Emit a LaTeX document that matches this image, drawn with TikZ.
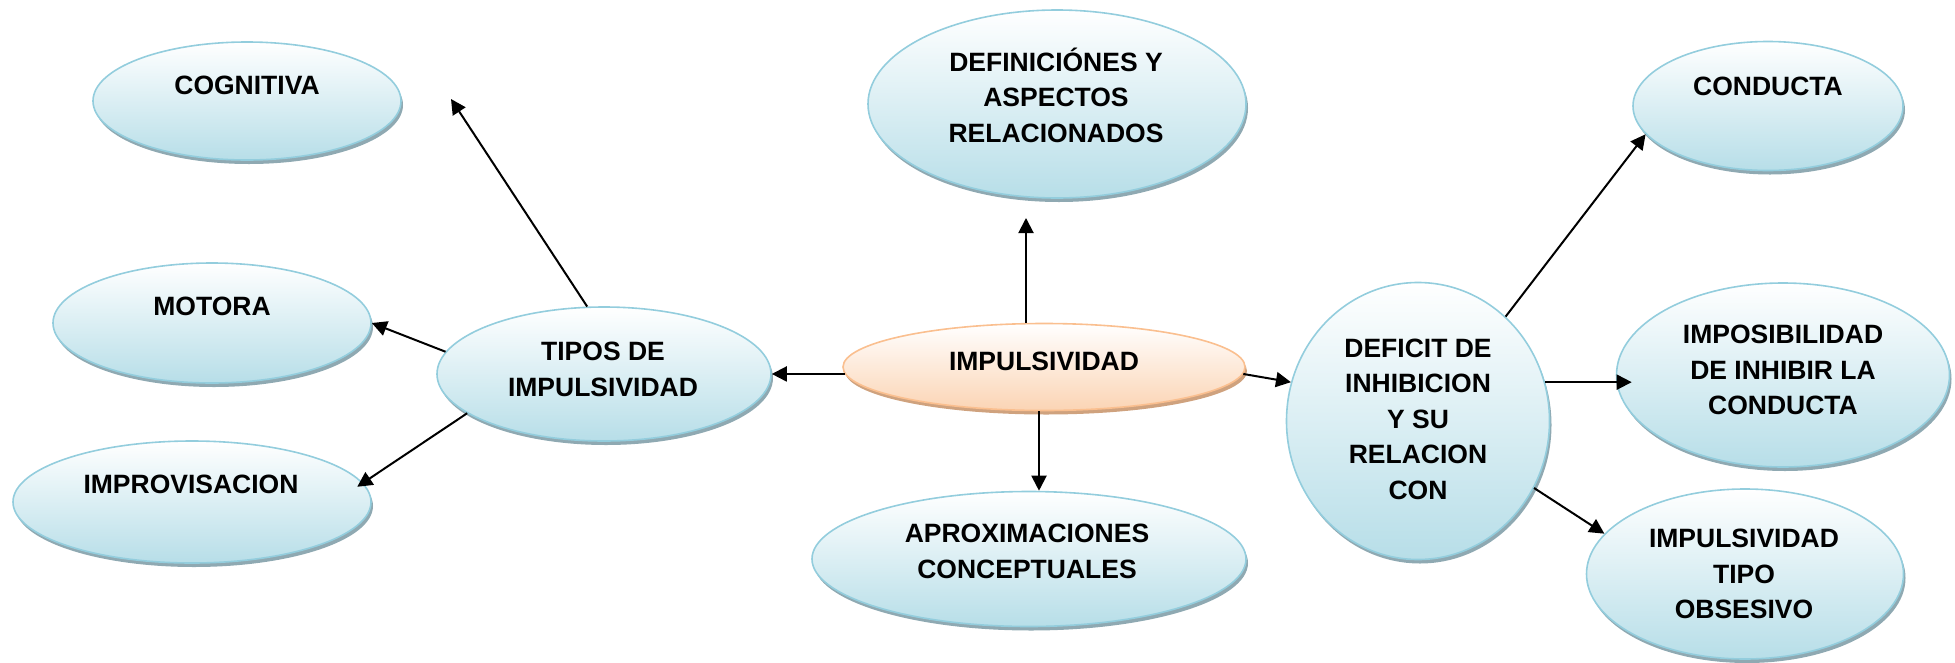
\documentclass[tikz,border=0pt]{standalone}
\usepackage{fontspec}
\setmainfont{Liberation Sans}
\usetikzlibrary{shapes.geometric,arrows.meta,shadows,calc}
\definecolor{bluefill}{HTML}{B7DEE8}
\definecolor{blueline}{HTML}{93CDDD}
\definecolor{blueshadow}{HTML}{8FA9B2}
\definecolor{orfill}{HTML}{FBD4B4}
\definecolor{orline}{HTML}{FABF8F}
\definecolor{orshadow}{HTML}{CFA27E}
\tikzset{
  bub/.style={ellipse, draw=blueline, line width=1.6pt, top color=white, bottom color=bluefill, inner sep=0pt,
    drop shadow={shadow xshift=2pt, shadow yshift=-4pt, fill=blueshadow, opacity=1}},
  orbub/.style={ellipse, draw=orline, line width=1.6pt, top color=white, bottom color=orfill, inner sep=0pt,
    drop shadow={shadow xshift=2pt, shadow yshift=-4pt, fill=orshadow, opacity=1}},
  txt/.style={font=\bfseries\fontsize{26.5}{35.5}\selectfont, align=center, anchor=base, inner sep=0pt},
  arr/.style={line width=2pt, -{Triangle[length=15pt,width=15pt]}}
}
\begin{document}
\begin{tikzpicture}[x=1pt,y=-1pt]
\useasboundingbox (0,0) rectangle (1955,662);
% ellipses
\node[bub, minimum width=308pt, minimum height=118pt] (cog) at (247,101) {};
\node[bub, minimum width=318pt, minimum height=120pt] (mot) at (212,323) {};
\node[bub, minimum width=358pt, minimum height=122pt] (imp) at (192,502) {};
\node[bub, minimum width=334pt, minimum height=134pt] (tipos) at (604,374) {};
\node[bub, minimum width=378pt, minimum height=188pt] (defin) at (1057,104) {};
\node[orbub, minimum width=402pt, minimum height=87pt] (impuls) at (1044,367) {};
\node[bub, minimum width=434pt, minimum height=135pt] (aprox) at (1029,559) {};
\node[bub, minimum width=263pt, minimum height=277pt] (deficit) at (1418,421) {};
\node[bub, minimum width=270pt, minimum height=129pt] (cond) at (1768,106) {};
\node[bub, minimum width=333pt, minimum height=184pt] (imposib) at (1783,375) {};
\node[bub, minimum width=317pt, minimum height=170pt] (obses) at (1745,574) {};
% connectors
\coordinate (cogtip) at (451,99);
\coordinate (deftip) at (1026,218);
\draw[arr] (tipos.104) -- (cogtip);
\draw[arr] (tipos.172) -- (mot.east);
\draw[arr] (tipos.196) -- ([xshift=-9pt]imp.5);
\draw[arr] (impuls.182) -- (tipos.east |- impuls.182);
\draw[arr] (impuls.north -| deftip) -- (deftip);
\draw[arr] ([xshift=-5pt]impuls.south) -- ([xshift=-5pt]impuls.south |- aprox.north);
\draw[arr] (impuls.-2) -- (deficit.163);
\draw[arr] (deficit.50) -- (cond.193);
\draw[arr] (deficit.17) -- ([xshift=16pt]imposib.west |- deficit.17);
\draw[arr] (deficit.-30) -- (obses.164);
% texts (anchor = baseline of the last line)
\node[txt] (tcog) at (247,94) {COGNITIVA};
\node[txt] (tmot) at (212,315) {MOTORA};
\node[txt] (timp) at (191,493) {IMPROVISACION};
\node[txt] (ttipos) at (603,396) {TIPOS DE\\IMPULSIVIDAD};
\node[txt] (tdefin) at (1056,142) {DEFINICIÓNES Y\\ASPECTOS\\RELACIONADOS};
\node[txt] (timpuls) at (1044,370) {IMPULSIVIDAD};
\node[txt] (taprox) at (1027,578) {APROXIMACIONES\\CONCEPTUALES};
\node[txt] (tdeficit) at (1418,499) {DEFICIT DE\\INHIBICION\\Y SU\\RELACION\\CON};
\node[txt] (tcond) at (1768,95) {CONDUCTA};
\node[txt] (timposib) at (1783,414.5) {IMPOSIBILIDAD\\DE INHIBIR LA\\CONDUCTA};
\node[txt] (tobses) at (1744,618.5) {IMPULSIVIDAD\\TIPO\\OBSESIVO};
\end{tikzpicture}
\end{document}
